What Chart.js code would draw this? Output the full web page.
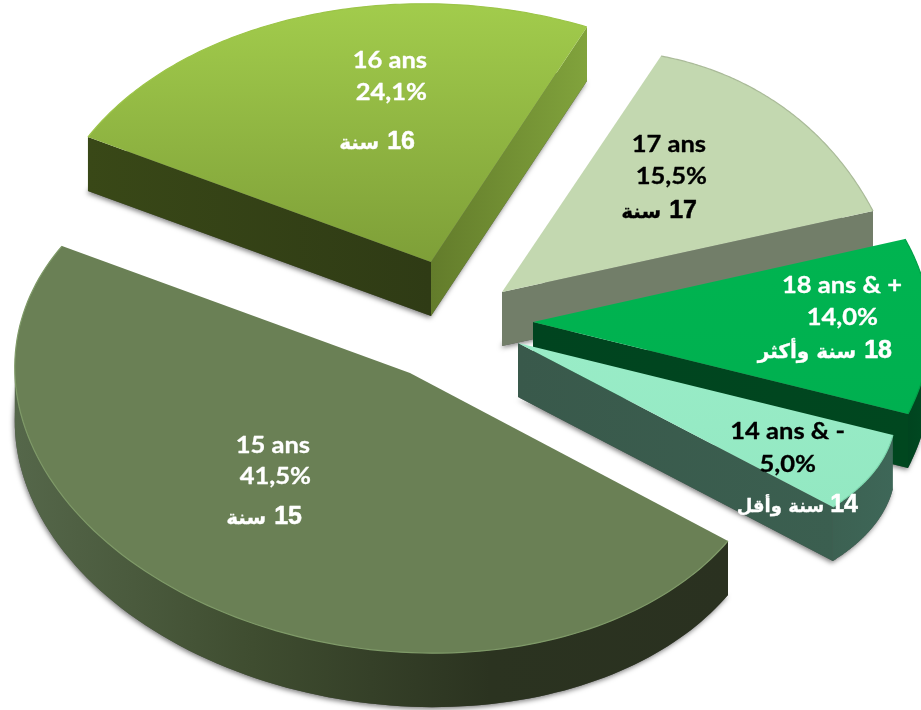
<!DOCTYPE html>
<html><head><meta charset="utf-8">
<style>html,body{margin:0;background:#fff}#w{position:relative;width:921px;height:710px}canvas{filter:blur(.35px)}</style>
<script src="https://cdn.jsdelivr.net/npm/chart.js@4"></script></head>
<body><div id="w"><canvas id="c"></canvas></div>
<script>
const categories=['14 ans & -','15 ans','16 ans','17 ans','18 ans & +'];
const arabicWords=['سنة وأقل','سنة','سنة','سنة','سنة وأكثر'];
const ageNumbers=['14','15','16','17','18'];
const shares=[5.0,41.5,24.1,15.5,14.0];
// Styling of the exploded 3D look
const faceColors=[['#99ecc7','#93e8c2'],['#6a8055','#6a8055'],['#a2cc4c','#7e9f38'],['#c3d8b0','#c3d8b0'],['#00b450','#00b050']];
const sideColors=[
 {arc:['#3c6152','#3e6758'],end:['#39594b','#3b5f50']},
 {arc:['#55674a','#3f4d30','#2b3320','#2a3120']},
 {start:['#394817','#2f3b15'],end:['#637c2b','#81a33c']},
 {end:['#727e69','#727e69']},
 {arc:['#00441f','#004a22'],end:['#00441f','#00471f']}];
const rimColors=['#7fd9b0','#7f9a68','#9cc548','#aabb99','#00a048'];
const drawOrder=[2,1,3,4,0];
const lineColors=[['#000','#000','#fff'],['#fff','#fff','#fff'],['#fff','#fff','#fff'],['#000','#000','#000'],['#fff','#fff','#fff']];
const textAnchors=[[845,439,816,472,858,512],[310,453,311,484,302,524],[427,68,427,100,415,149],[706,152,707,184,697,218],[902,293,878,325,892,358]];
const arabicSizes=[18,20,20,20,20];
const arabicGaps=[6,8,8,8,8];
const sideDepth=54;
// Per-slice perspective view: origin x,y, 2x2 matrix, perspective p,q
const sliceViews=[
 [518,343,204.5,-69.0,27.2,113.3,-0.4542,-0.2731],
 [458.4,343.5,347.76,-96.6,97.55,224.98,0.1,-0.25],
 [431,262,343.9,-195.8,139.6,224.8,-0.0294,-0.0111],
 [502,292,277.7,-251.1,157.7,311.8,-0.2910,-0.3559],
 [533,322,632.7,-193.7,91,316.6,0.6238,-0.2440]];
const hubOffsets=[[0,0],[-48.4,29.5],[0,0],[0,0],[0,0]];
function proj(V,u,v){const w=1+V[6]*u+V[7]*v;return [V[0]+(V[2]*u+V[3]*v)/w,V[1]+(V[4]*u+V[5]*v)/w];}
function grad(ctx,pts,c,vertical){let a=1e9,b=-1e9;pts.forEach(p=>{const t=vertical?p[1]:p[0];a=Math.min(a,t);b=Math.max(b,t);});const g=vertical?ctx.createLinearGradient(0,a,0,b):ctx.createLinearGradient(a,0,b,0);c.forEach((col,k)=>g.addColorStop(k/(c.length-1),col));return g;}
function poly(ctx,pts){ctx.beginPath();pts.forEach((p,i)=>i?ctx.lineTo(p[0],p[1]):ctx.moveTo(p[0],p[1]));ctx.closePath();}
function strip(ctx,seg,c){const run=[];for(let i=0;i+1<seg.length;i++){if(seg[i+1][0]<seg[i][0]){if(!run.length)run.push(seg[i]);run.push(seg[i+1]);}}if(run.length<2)return;ctx.fillStyle=grad(ctx,run,c,false);poly(ctx,[...run,...run.slice().reverse().map(q=>[q[0],q[1]+sideDepth])]);ctx.fill();}
const slices3d={id:'slices3d',
 beforeDatasetDraw(chart,args){
  const ctx=chart.ctx,arcs=args.meta.data;
  drawOrder.forEach(i=>{
   const p=arcs[i].getProps(['startAngle','endAngle'],true);
   const V=sliceViews[i];
   const arc=[];const N=120;for(let k=0;k<=N;k++){const t=p.startAngle+(p.endAngle-p.startAngle)*k/N;arc.push(proj(V,Math.cos(t),Math.sin(t)));}
   const c=proj(V,0,0);const apex=[c[0]+hubOffsets[i][0],c[1]+hubOffsets[i][1]];const face=[apex,...arc];
   ctx.save();
   ctx.shadowColor='rgba(0,0,0,.5)';ctx.shadowBlur=5;ctx.shadowOffsetX=-1;ctx.shadowOffsetY=2;ctx.fillStyle='#555';
   poly(ctx,face.map(q=>[q[0],q[1]+sideDepth]));ctx.fill();
   ctx.restore();
   ctx.save();
   const s=sideColors[i];
   if(s.arc)strip(ctx,arc,s.arc);
   if(s.start)strip(ctx,[apex,arc[0]],s.start);
   if(s.end)strip(ctx,[arc[N],apex],s.end);
   poly(ctx,face);ctx.fillStyle=grad(ctx,face,faceColors[i],true);ctx.fill();
   ctx.beginPath();arc.forEach((q,k)=>k?ctx.lineTo(q[0],q[1]):ctx.moveTo(q[0],q[1]));ctx.strokeStyle=rimColors[i];ctx.lineWidth=1.2;ctx.stroke();
   ctx.restore();
  });
  return false;
 },
 afterDatasetsDraw(chart){
  const ctx=chart.ctx;
  const pct=v=>v.toFixed(1).replace('.',',')+'%';
  categories.forEach((c,i)=>{
   const t=textAnchors[i];
   ctx.save();ctx.textAlign='right';ctx.textBaseline='alphabetic';ctx.lineWidth=.3;ctx.lineJoin='round';
   ctx.direction='ltr';
   ctx.font='bold 22px Lato';
   [c,pct(shares[i])].forEach((s,j)=>{ctx.save();ctx.translate(t[j*2],t[j*2+1]);ctx.scale(1.16,1);ctx.fillStyle=ctx.strokeStyle=lineColors[i][j];ctx.fillText(s,0,0);ctx.strokeText(s,0,0);ctx.restore();});
   ctx.fillStyle=ctx.strokeStyle=lineColors[i][2];
   ctx.font='bold 25px "Liberation Sans"';
   ctx.fillText(ageNumbers[i],t[4],t[5]);ctx.lineWidth=.5;ctx.strokeText(ageNumbers[i],t[4],t[5]);
   const w=ctx.measureText(ageNumbers[i]).width;
   ctx.direction='rtl';ctx.textAlign='start';ctx.lineWidth=.3;
   ctx.font='bold '+arabicSizes[i]+'px "DejaVu Sans"';
   ctx.fillText(arabicWords[i],t[4]-w-arabicGaps[i],t[5]);ctx.strokeText(arabicWords[i],t[4]-w-arabicGaps[i],t[5]);
   ctx.restore();
  });
 }
};
new Chart(document.getElementById('c'),{type:'pie',data:{labels:categories,datasets:[{data:shares,borderWidth:0,backgroundColor:faceColors.map(c=>c[0])}]},
 options:{responsive:true,maintainAspectRatio:false,animation:false,rotation:100,layout:{padding:0},plugins:{legend:{display:false},tooltip:{enabled:false}}},plugins:[slices3d]});
</script></body></html>
